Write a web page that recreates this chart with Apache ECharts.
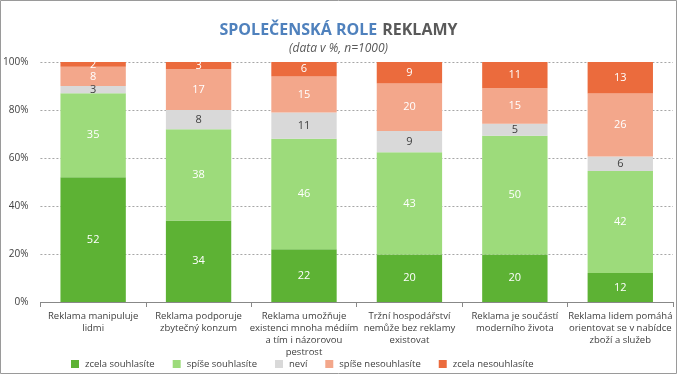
<!DOCTYPE html>
<html><head><meta charset="utf-8">
<script src="https://cdn.jsdelivr.net/npm/echarts@6/dist/echarts.min.js"></script>
<style>html,body{margin:0;padding:0;background:#fff}#c{width:677px;height:374px}</style>
</head><body><div id="c"></div>
<script>
const categories = [
  "Reklama manipuluje\nlidmi",
  "Reklama podporuje\nzbytečný konzum",
  "Reklama umožňuje\nexistenci mnoha médiím\na tím i názorovou\npestrost",
  "Tržní hospodářství\nnemůže bez reklamy\nexistovat",
  "Reklama je součástí\nmoderního života",
  "Reklama lidem pomáhá\norientovat se v nabídce\nzboží a služeb"
];
const seriesNames = ["zcela souhlasíte","spíše souhlasíte","neví","spíše nesouhlasíte","zcela nesouhlasíte"];
const zcelaSouhlasite = [52,34,22,20,20,12];
const spiseSouhlasite = [35,38,46,43,50,42];
const nevi = [3,8,11,9,5,6];
const spiseNesouhlasite = [8,17,15,20,15,26];
const zcelaNesouhlasite = [2,3,6,9,11,13];
const yTicks = ["0%","20%","40%","60%","80%","100%"];

const raw = [zcelaSouhlasite, spiseSouhlasite, nevi, spiseNesouhlasite, zcelaNesouhlasite];
const totals = categories.map((_, i) => raw.reduce((s, a) => s + a[i], 0));
const colors = ["#5DB234","#9DDB7B","#D9D9D9","#F3A78B","#EB6B3D"];
const labelColors = ["#fff","#fff","#404040","#fff","#fff"];
const FONT = "Open Sans";

const series = raw.map((arr, k) => ({
  name: seriesNames[k],
  type: 'bar',
  stack: 'a',
  barWidth: '62%',
  itemStyle: {color: colors[k]},
  label: {
    show: true, position: 'inside', color: labelColors[k],
    fontFamily: FONT, fontSize: 11,
    formatter: p => String(arr[p.dataIndex])
  },
  emphasis: {disabled: true},
  data: arr.map((v, i) => v / totals[i] * 100)
}));

const chart = echarts.init(document.getElementById('c'), null, {renderer: 'canvas'});
chart.setOption({
  animation: false,
  graphic: [{type: 'rect', shape: {x: 0.5, y: 0.5, width: 676, height: 373}, style: {fill: 'none', stroke: '#9A9A9A', lineWidth: 1}, silent: true}],
  title: {
    text: '{a|SPOLEČENSKÁ ROLE} {b|REKLAMY}',
    subtext: '(data v %, n=1000)',
    left: 'center', top: 16, itemGap: 4,
    textStyle: {rich: {
      a: {fontFamily: FONT, fontSize: 16, fontWeight: 'bold', color: '#4F81BD'},
      b: {fontFamily: FONT, fontSize: 16, fontWeight: 'bold', color: '#595959'}
    }},
    subtextStyle: {fontFamily: FONT, fontSize: 12, fontStyle: 'italic', color: '#595959'}
  },
  legend: {
    top: 354, left: 66, itemWidth: 8, itemHeight: 8, itemGap: 18,
    icon: 'rect',
    textStyle: {fontFamily: FONT, fontSize: 9.5, color: '#404040', padding: [0, 0, 0, 1]},
    data: seriesNames
  },
  grid: {left: 40, right: 4, top: 62, bottom: 72, containLabel: false},
  xAxis: {
    type: 'category', data: categories,
    axisLine: {lineStyle: {color: '#888'}},
    axisTick: {show: true, alignWithLabel: false, length: 5, lineStyle: {color: '#888'}},
    axisLabel: {interval: 0, fontFamily: FONT, fontSize: 9.5, color: '#404040', lineHeight: 12, margin: 8}
  },
  yAxis: {
    type: 'value', min: 0, max: 100, interval: 20,
    axisLabel: {fontFamily: FONT, fontSize: 10, color: '#404040', margin: 12,
      formatter: v => yTicks[Math.round(v / 20)]},
    axisLine: {show: false}, axisTick: {show: false},
    splitLine: {lineStyle: {color: '#A6A6A6', type: [2, 2]}}
  },
  series: series
});
</script></body></html>
